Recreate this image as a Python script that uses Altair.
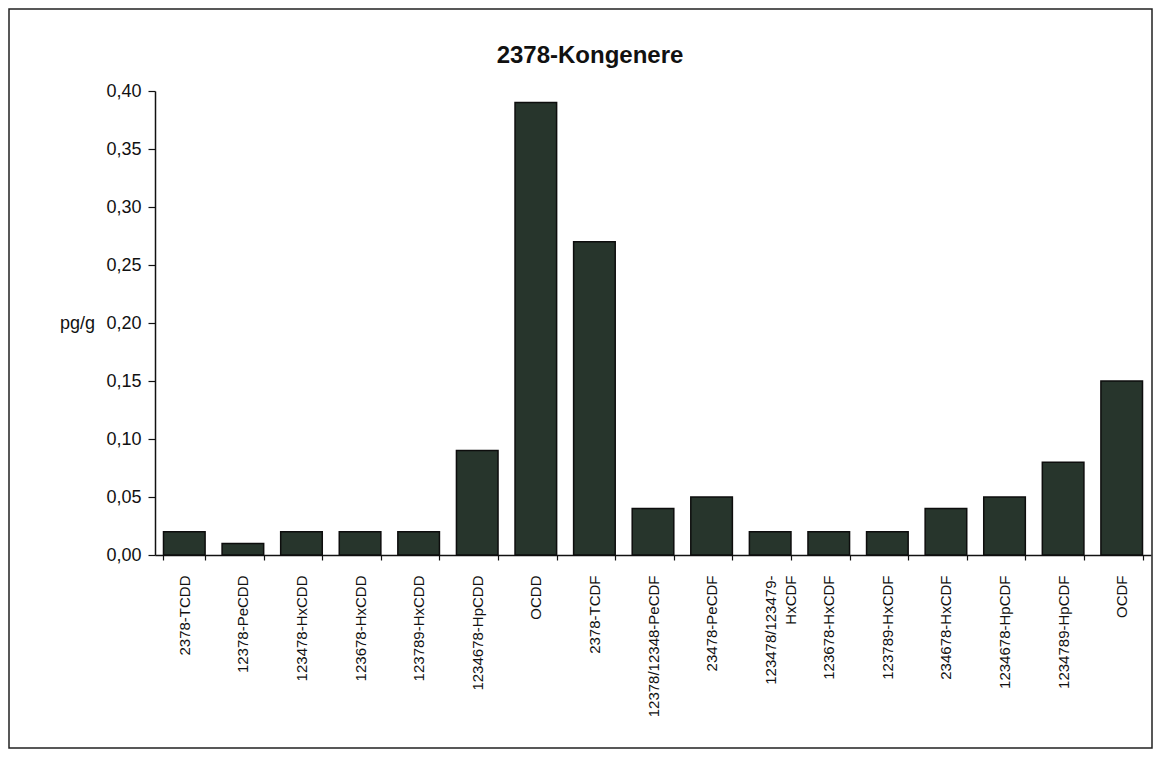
import altair as alt
import pandas as pd

title_text = ["2378-Kongenere"]
congeners = [
    "2378-TCDD", "12378-PeCDD", "123478-HxCDD", "123678-HxCDD", "123789-HxCDD",
    "1234678-HpCDD", "OCDD", "2378-TCDF", "12378/12348-PeCDF", "23478-PeCDF",
    "123478/123479-HxCDF", "123678-HxCDF", "123789-HxCDF", "234678-HxCDF",
    "1234678-HpCDF", "1234789-HpCDF", "OCDF",
]
values = [0.02, 0.01, 0.02, 0.02, 0.02, 0.09, 0.39, 0.27, 0.04, 0.05,
          0.02, 0.02, 0.02, 0.04, 0.05, 0.08, 0.15]
y_ticks = [0.0, 0.05, 0.10, 0.15, 0.20, 0.25, 0.30, 0.35, 0.40]

df = pd.DataFrame({"congener": congeners, "value": values})
tdf = pd.DataFrame({"t": title_text})

FONT = "Liberation Sans"

bars = alt.Chart(df).mark_bar(
    color="#27352c", stroke="#0d0d0d", strokeWidth=1.5
).encode(
    x=alt.X(
        "congener:N", sort=None, title=None,
        scale=alt.Scale(paddingInner=0.29, paddingOuter=0.145),
        axis=alt.Axis(
            labelAngle=270, labelAlign="right", labelBaseline="middle",
            labelFont=FONT, labelFontSize=15, labelColor="#111",
            labelPadding=15, labelLineHeight=20, labelLimit=300,
            labelExpr="datum.label == '123478/123479-HxCDF' ? ['123478/123479-', 'HxCDF'] : datum.label",
            tickBand="extent", tickSize=5, tickColor="#111", tickWidth=1.2,
            domainColor="#111", domainWidth=1.5, grid=False,
        ),
    ),
    y=alt.Y(
        "value:Q",
        scale=alt.Scale(domain=[0, 0.4], nice=False),
        axis=alt.Axis(
            values=y_ticks, title="pg/g", titleAngle=0, titleX=-78, titleY=232,
            titleAlign="center", titleBaseline="middle", titleFont=FONT,
            titleFontSize=18, titleFontWeight="normal", titleColor="#111",
            labelExpr="replace(format(datum.value, '.2f'), '.', ',')",
            labelFont=FONT, labelFontSize=18, labelColor="#111", labelPadding=7,
            tickSize=7, tickColor="#111", tickWidth=1.2,
            domainColor="#111", domainWidth=1.5, grid=False,
        ),
    ),
)

frame = alt.Chart(tdf).mark_rect(
    fill=None, stroke="#222", strokeWidth=1.5
).encode(
    x=alt.value(-146), x2=alt.value(997), y=alt.value(-82), y2=alt.value(657)
)

title = alt.Chart(tdf).mark_text(
    font=FONT, fontSize=24, fontWeight="bold", color="#111",
    align="center", baseline="alphabetic"
).encode(
    text="t:N", x=alt.value(435), y=alt.value(-28)
)

chart = alt.layer(frame, title, bars).properties(
    width=996, height=464,
    padding={"left": 147, "top": 83, "right": 2, "bottom": 194},
    autosize=alt.AutoSizeParams(type="none"),
).configure_view(stroke=None)

chart.save("out.html", embed_options={"renderer": "svg", "actions": False})
